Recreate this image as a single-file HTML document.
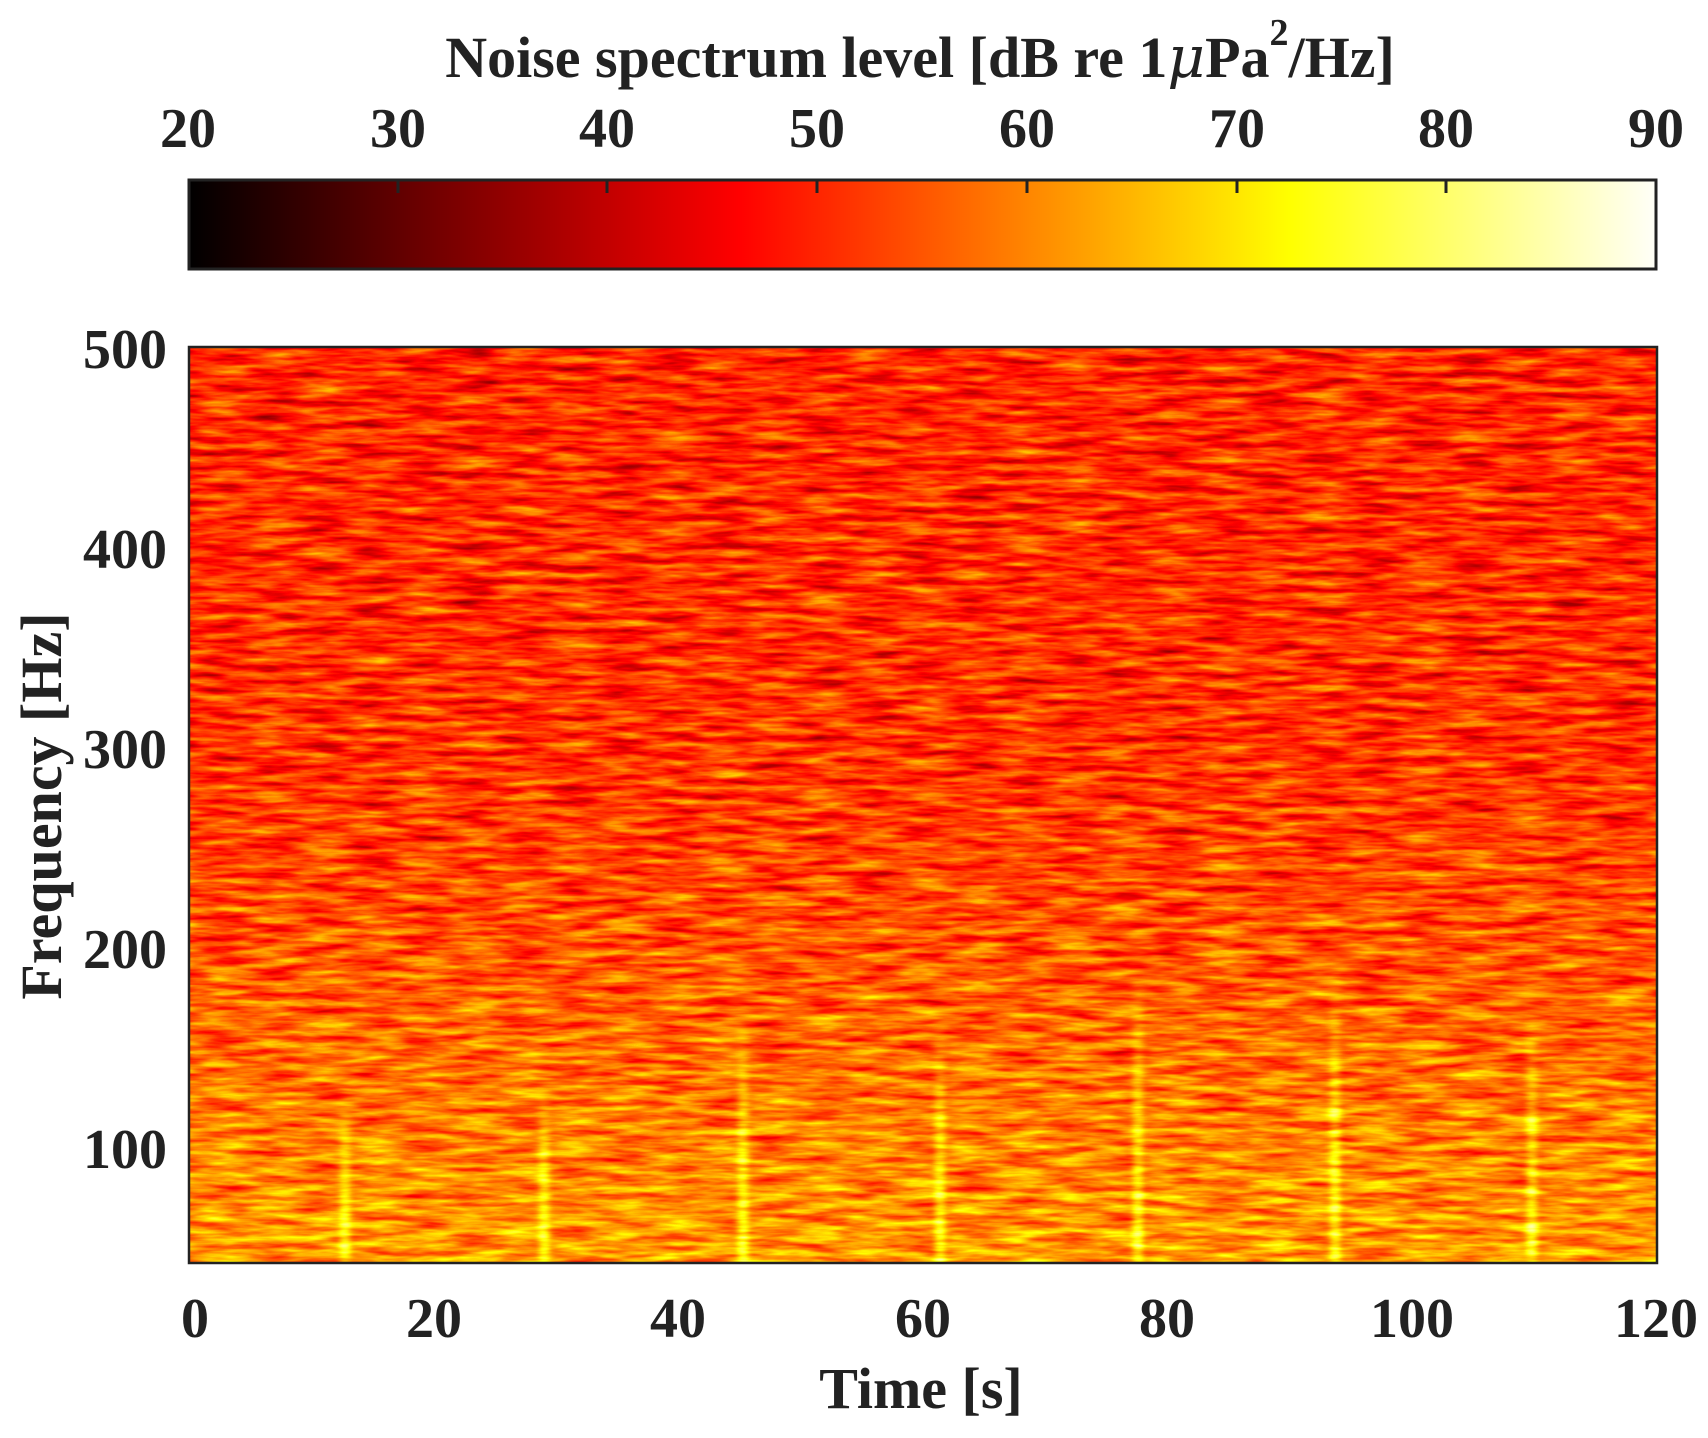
<!DOCTYPE html>
<html><head><meta charset="utf-8"><style>
html,body{margin:0;padding:0;background:#fff;}
svg{display:block;}
text{font-family:"Liberation Serif",serif;font-weight:bold;fill:#222;}
</style></head><body>
<svg width="1708" height="1438" viewBox="0 0 1708 1438" xmlns="http://www.w3.org/2000/svg">
<defs>
  <linearGradient id="hot" x1="0" x2="1" y1="0" y2="0">
    <stop offset="0" stop-color="#000"/>
    <stop offset="0.375" stop-color="#ff0000"/>
    <stop offset="0.75" stop-color="#ffff00"/>
    <stop offset="1" stop-color="#fffff8"/>
  </linearGradient>
  <linearGradient id="base" x1="0" x2="0" y1="347" y2="1263" gradientUnits="userSpaceOnUse">
    <stop offset="0" stop-color="rgb(110,110,110)"/>
    <stop offset="0.45" stop-color="rgb(115,115,115)"/>
    <stop offset="0.65" stop-color="rgb(127,127,127)"/>
    <stop offset="0.85" stop-color="rgb(143,143,143)"/>
    <stop offset="1" stop-color="rgb(154,154,154)"/>
  </linearGradient>
  <linearGradient id="streak" x1="0" x2="0" y1="0" y2="1">
    <stop offset="0" stop-color="#fff" stop-opacity="0"/>
    <stop offset="0.4" stop-color="#fff" stop-opacity="0.3"/>
    <stop offset="1" stop-color="#fff" stop-opacity="0.5"/>
  </linearGradient>
  <filter id="blur" x="-1" y="-0.1" width="3" height="1.2">
    <feGaussianBlur stdDeviation="3 6"/>
  </filter>
  <filter id="spec" filterUnits="userSpaceOnUse" x="189" y="347" width="1468" height="916" color-interpolation-filters="sRGB">
    <feTurbulence type="fractalNoise" baseFrequency="0.02 0.14" numOctaves="3" seed="7" result="n"/>
    <feColorMatrix in="n" type="matrix" values="1 0 0 0 0  1 0 0 0 0  1 0 0 0 0  0 0 0 0 1" result="ng"/>
    <feComposite in="SourceGraphic" in2="ng" operator="arithmetic" k1="0" k2="1" k3="0.55" k4="-0.275" result="v"/>
    <feComponentTransfer in="v">
      <feFuncR type="table" tableValues="0 0.33 0.67 1 1 1 1 1 1"/>
      <feFuncG type="table" tableValues="0 0 0 0 0.33 0.67 1 1 1"/>
      <feFuncB type="table" tableValues="0 0 0 0 0 0 0 0.5 1"/>
      <feFuncA type="table" tableValues="1 1"/>
    </feComponentTransfer>
  </filter>
</defs>

<text x="920" y="77" font-size="58" text-anchor="middle">Noise spectrum level [dB re 1<tspan font-style="italic" font-family="DejaVu Serif" font-weight="normal">μ</tspan>Pa<tspan dy="-32" font-size="38">2</tspan><tspan dy="32">/Hz]</tspan></text>

<g font-size="56" text-anchor="middle">
<text x="188" y="147">20</text><text x="398" y="147">30</text><text x="607" y="147">40</text>
<text x="817" y="147">50</text><text x="1027" y="147">60</text><text x="1237" y="147">70</text>
<text x="1446" y="147">80</text><text x="1656" y="147">90</text>
</g>
<rect x="189" y="180" width="1467" height="89" fill="url(#hot)"/>
<rect x="189" y="180" width="1467" height="89" fill="none" stroke="#222" stroke-width="3"/>
<g stroke="#222" stroke-width="3">
<line x1="398" y1="180" x2="398" y2="193"/><line x1="607" y1="180" x2="607" y2="193"/>
<line x1="817" y1="180" x2="817" y2="193"/><line x1="1027" y1="180" x2="1027" y2="193"/>
<line x1="1237" y1="180" x2="1237" y2="193"/><line x1="1446" y1="180" x2="1446" y2="193"/>
</g>

<g filter="url(#spec)">
  <rect x="189" y="347" width="1468" height="916" fill="url(#base)"/>
  <g filter="url(#blur)">
  <rect x="340" y="1087" width="10" height="176" fill="url(#streak)"/>
  <rect x="539" y="1080" width="10" height="183" fill="url(#streak)"/>
  <rect x="738" y="1007" width="10" height="256" fill="url(#streak)"/>
  <rect x="935" y="1017" width="10" height="246" fill="url(#streak)"/>
  <rect x="1133" y="967" width="10" height="296" fill="url(#streak)"/>
  <rect x="1330" y="967" width="10" height="296" fill="url(#streak)"/>
  <rect x="1527" y="1007" width="10" height="256" fill="url(#streak)"/>
  </g>
</g>
<rect x="189" y="347" width="1468" height="916" fill="none" stroke="#222" stroke-width="2.5"/>

<g font-size="56" text-anchor="end">
<text x="167" y="368">500</text><text x="167" y="568">400</text><text x="167" y="768">300</text>
<text x="167" y="968">200</text><text x="167" y="1168">100</text>
</g>
<text transform="translate(61,806) rotate(-90)" font-size="58" text-anchor="middle">Frequency [Hz]</text>

<g font-size="56" text-anchor="middle">
<text x="195" y="1337">0</text><text x="434" y="1337">20</text><text x="678" y="1337">40</text>
<text x="923" y="1337">60</text><text x="1167" y="1337">80</text><text x="1412" y="1337">100</text>
<text x="1656" y="1337">120</text>
</g>
<text x="921" y="1408" font-size="58" text-anchor="middle">Time [s]</text>
</svg>
</body></html>
